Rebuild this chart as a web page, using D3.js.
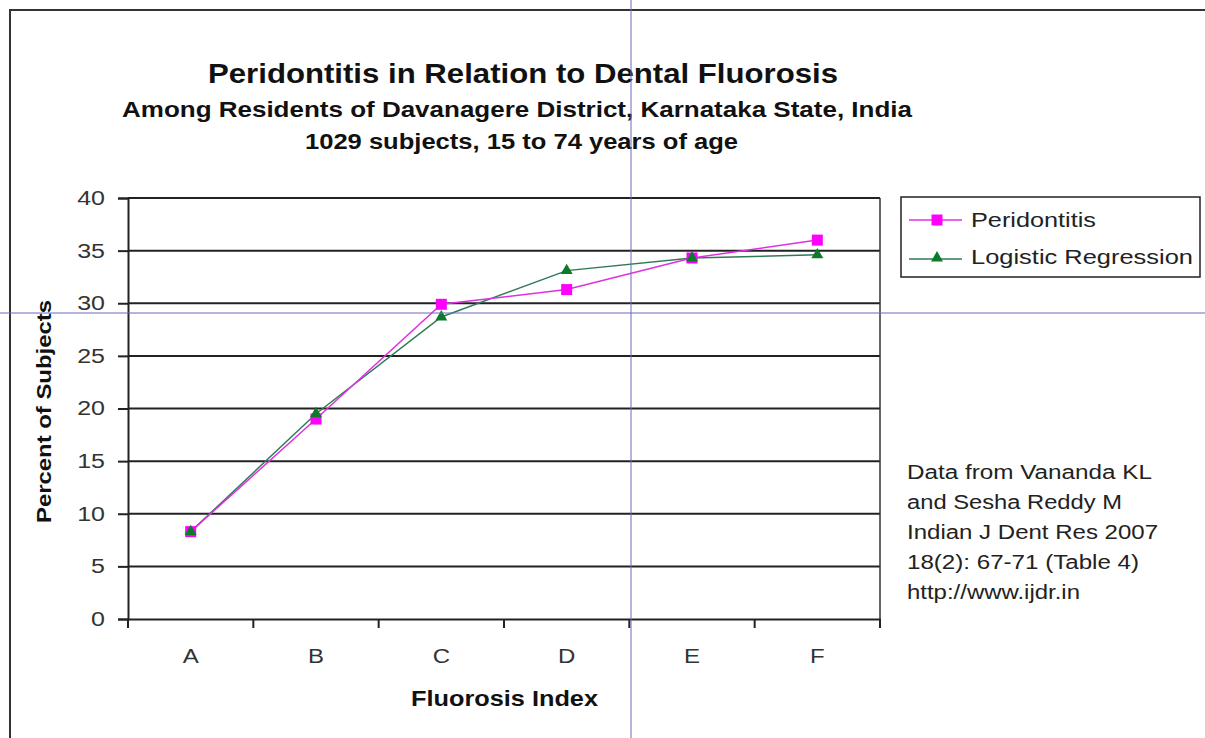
<!DOCTYPE html>
<html><head><meta charset="utf-8">
<script src="https://cdn.jsdelivr.net/npm/d3@7"></script>
<style>html,body{margin:0;padding:0;background:#fff;}svg{display:block;}</style>
</head><body>
<svg id="chart" width="1205" height="738"></svg>
<script>
const categories = ["A","B","C","D","E","F"];
const peridontitis = [8.3, 19.0, 29.9, 31.3, 34.3, 36.0];
const logistic = [8.3, 19.5, 28.7, 33.1, 34.3, 34.6];
const yTicks = [0,5,10,15,20,25,30,35,40];
const titleLines = ["Peridontitis in Relation to Dental Fluorosis",
  "Among Residents of Davanagere District, Karnataka State, India",
  "1029 subjects, 15 to 74 years of age"];
const noteLines = ["Data from Vananda KL","and Sesha Reddy M","Indian J Dent Res 2007","18(2): 67-71 (Table 4)","http://www.ijdr.in"];
const seriesNames = ["Peridontitis","Logistic Regression"];

const svg = d3.select("#chart");
const font = "Liberation Sans, Arial, sans-serif";
const m = {left:128, right:880, top:198, bottom:619};
const STRETCH = 1.2;

function fit(sel, w) {
  sel.attr("textLength", w).attr("lengthAdjust", "spacingAndGlyphs");
}
function stretch(sel, k) {
  sel.each(function(){
    const w = this.getComputedTextLength();
    d3.select(this).attr("textLength", w*k).attr("lengthAdjust","spacingAndGlyphs");
  });
}

// outer frame
svg.append("path").attr("d","M10,738 V10 H1205").attr("fill","none").attr("stroke","#333").attr("stroke-width",2);

// titles
const titleSpec = [{x:523,y:83,fs:28,w:630},{x:517,y:117,fs:22,w:790},{x:521.5,y:149,fs:22,w:433}];
titleSpec.forEach((s,i)=>{
  svg.append("text").attr("x",s.x).attr("y",s.y).attr("text-anchor","middle")
    .attr("font-family",font).attr("font-weight","bold").attr("font-size",s.fs).attr("fill","#111")
    .text(titleLines[i]).call(fit, s.w);
});

const x = d3.scaleBand().domain(categories).range([m.left, m.right]);
const y = d3.scaleLinear().domain([0,40]).range([m.bottom, m.top]);

// gridlines
svg.append("g").selectAll("line").data(yTicks.filter(d=>d>0)).join("line")
  .attr("x1",m.left).attr("x2",m.right).attr("y1",d=>y(d)).attr("y2",d=>y(d))
  .attr("stroke","#222").attr("stroke-width",2);
// right border of plot
svg.append("line").attr("x1",m.right).attr("x2",m.right).attr("y1",m.top).attr("y2",m.bottom)
  .attr("stroke","#333").attr("stroke-width",1.5);

// y axis
const yAxis = svg.append("g").attr("transform",`translate(${m.left},0)`)
  .call(d3.axisLeft(y).tickValues(yTicks).tickSize(10).tickPadding(13));
yAxis.select(".domain").attr("stroke","#222").attr("stroke-width",2);
yAxis.selectAll(".tick line").attr("stroke","#222").attr("stroke-width",2);
yAxis.selectAll("text").attr("font-family",font).attr("font-size",20).attr("fill","#333").call(stretch, 1.25);

// x axis
const xAxis = svg.append("g").attr("transform",`translate(0,${m.bottom})`)
  .call(d3.axisBottom(x).tickSize(0).tickPadding(30));
xAxis.select(".domain").attr("stroke","#222").attr("stroke-width",2);
xAxis.selectAll("text").attr("font-family",font).attr("font-size",20).attr("fill","#333").call(stretch, 1.2);
const bounds = categories.map(c=>x(c)).concat([m.right]);
svg.append("g").selectAll("line").data(bounds).join("line")
  .attr("x1",d=>d).attr("x2",d=>d).attr("y1",m.bottom).attr("y2",m.bottom+9)
  .attr("stroke","#222").attr("stroke-width",2);

// axis titles
svg.append("text").attr("transform","translate(51,411.5) rotate(-90)").attr("text-anchor","middle")
  .attr("font-family",font).attr("font-weight","bold").attr("font-size",21).attr("fill","#111")
  .text("Percent of Subjects").call(fit, 223);
svg.append("text").attr("x",504.5).attr("y",706).attr("text-anchor","middle")
  .attr("font-family",font).attr("font-weight","bold").attr("font-size",22).attr("fill","#111")
  .text("Fluorosis Index").call(fit, 187);

const cx = c => x(c) + x.bandwidth()/2;
const line = d3.line().x((d,i)=>cx(categories[i])).y(d=>y(d));
const tri = d3.symbol().type(d3.symbolTriangle).size(62);

// logistic series
svg.append("path").attr("d",line(logistic)).attr("fill","none").attr("stroke","#2e7a55").attr("stroke-width",1.5);
// peridontitis series
svg.append("path").attr("d",line(peridontitis)).attr("fill","none").attr("stroke","#e030e0").attr("stroke-width",1.5);
svg.append("g").selectAll("rect").data(peridontitis).join("rect")
  .attr("x",(d,i)=>cx(categories[i])-5.5).attr("y",d=>y(d)-5.5).attr("width",11).attr("height",11)
  .attr("fill","#ff00ff");
svg.append("g").selectAll("path").data(logistic).join("path")
  .attr("d",tri).attr("transform",(d,i)=>`translate(${cx(categories[i])},${y(d)})`)
  .attr("fill","#0b7a2a");

// legend
const lg = svg.append("g");
lg.append("rect").attr("x",901).attr("y",197).attr("width",299).attr("height",80)
  .attr("fill","#fff").attr("stroke","#222").attr("stroke-width",1.5);
lg.append("line").attr("x1",909).attr("x2",962).attr("y1",220).attr("y2",220).attr("stroke","#e030e0").attr("stroke-width",1.5);
lg.append("rect").attr("x",931.5).attr("y",214.5).attr("width",11).attr("height",11).attr("fill","#ff00ff");
lg.append("line").attr("x1",909).attr("x2",962).attr("y1",259).attr("y2",259).attr("stroke","#2e7a55").attr("stroke-width",1.5);
lg.append("path").attr("d",tri).attr("transform","translate(937,258)").attr("fill","#0b7a2a");
const legendW = [125, 222];
lg.selectAll("text").data(seriesNames).join("text")
  .attr("x",971).attr("y",(d,i)=>227+i*37)
  .attr("font-family",font).attr("font-size",21).attr("fill","#222").text(d=>d)
  .each(function(d,i){ d3.select(this).call(fit, legendW[i]); });

// note
const noteW = [245, 215, 251, 232, 173];
svg.append("g").selectAll("text").data(noteLines).join("text")
  .attr("x",907).attr("y",(d,i)=>479+i*30)
  .attr("font-family",font).attr("font-size",20).attr("fill","#222").text(d=>d)
  .each(function(d,i){ d3.select(this).call(fit, noteW[i]); });

// crosshair artifacts
svg.append("line").attr("x1",631).attr("x2",631).attr("y1",0).attr("y2",738).attr("stroke","#6a6ac0").attr("stroke-width",1);
svg.append("line").attr("x1",0).attr("x2",1205).attr("y1",313).attr("y2",313).attr("stroke","#6a6ac0").attr("stroke-width",1);
</script>
</body></html>
